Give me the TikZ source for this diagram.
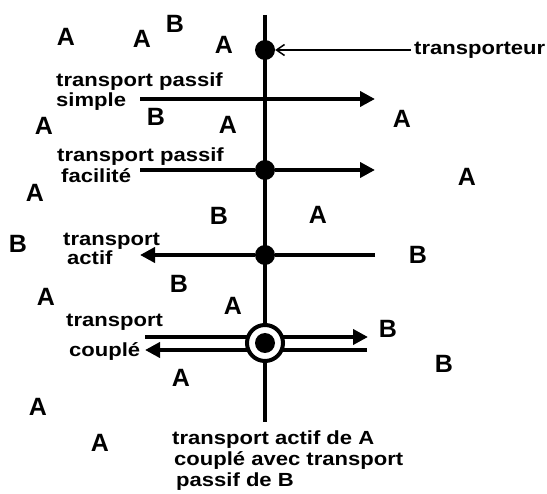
\documentclass[tikz,border=0pt]{standalone}
\usepackage{fontspec}
\setmainfont{Liberation Sans}
\usetikzlibrary{arrows.meta}
\newcommand\sx[1]{\scalebox{1.16}[1]{#1}}
\tikzset{
  lbl/.style={font=\fontsize{19}{22}\selectfont\bfseries, anchor=base west, inner sep=0pt},
  mol/.style={font=\fontsize{25}{28}\selectfont\bfseries, inner sep=0pt},
  flux/.style={line width=4pt, -{Triangle[length=15pt,width=15pt]}},
  fluxplain/.style={line width=4pt},
  dotnode/.style={circle, fill=black, minimum size=20pt, inner sep=0pt},
}
\begin{document}
\begin{tikzpicture}[x=1pt,y=-1pt]
\useasboundingbox[fill=white] (0,0) rectangle (547,494);
% membrane
\coordinate (mtop) at (265,15);
\coordinate (mbot) at (265,422);
\draw[line width=4pt] (mtop) -- (mbot);
% carriers
\node[dotnode] (c1) at (265,50) {};
\node[dotnode] (c2) at (265,170) {};
\node[dotnode] (c3) at (265,255) {};
% transporteur
\node[lbl] (tr) at (414,55) {\sx{transporteur}};
\draw[line width=1.5pt, -{Straight Barb[length=8pt,width=11pt]}] (tr.west |- c1) ++(-3,0) coordinate (trs) (trs) -- (c1.east);
% simple
\coordinate (s1) at (140,99);
\coordinate (s2) at (375,99);
\draw[flux] (s1) -- (s2);
\node[lbl] (ls1) at (56,87) {\sx{transport passif}};
\node[lbl] (ls2) at (56,107) {\sx{simple}};
% facilite
\coordinate (f2) at (375,170);
\coordinate (f1) at (140,170);
\draw[fluxplain] (f1) -- (c2);
\draw[flux] (c2) -- (f2);
\node[lbl] (lf1) at (57,162) {\sx{transport passif}};
\node[lbl] (lf2) at (61,183) {\sx{facilité}};
% actif
\coordinate (a1) at (375,255);
\coordinate (a2) at (140,255);
\draw[fluxplain] (a1) -- (c3);
\draw[flux] (c3) -- (a2);
\node[lbl] (la1) at (63,246) {\sx{transport}};
\node[lbl] (la2) at (67,265) {\sx{actif}};
% couple
\coordinate (k) at (265,343);
\coordinate (k1a) at (145,337);
\coordinate (k1b) at (368,337);
\coordinate (k2a) at (367,350);
\coordinate (k2b) at (145,350);
\draw[flux] (k1a) -- (k1b);
\draw[flux] (k2a) -- (k2b);
\node[circle, draw=black, line width=4pt, fill=white, minimum size=36pt, inner sep=0pt] (ring) at (k) {};
\node[dotnode] (c4) at (k) {};
\node[lbl] (lk1) at (66,327) {\sx{transport}};
\node[lbl] (lk2) at (69,357) {\sx{couplé}};
% bottom text
\node[lbl] (b1) at (172,445) {\sx{transport actif de A}};
\node[lbl] (b2) at (174,466) {\sx{couplé avec transport}};
\node[lbl] (b3) at (176,487) {\sx{passif de B}};
% molecules
\node[mol] (m1) at (66,37) {A};
\node[mol] (m2) at (142,39) {A};
\node[mol] (m3) at (175,24) {B};
\node[mol] (m4) at (224,45) {A};
\node[mol] (m5) at (44,126) {A};
\node[mol] (m6) at (156,117) {B};
\node[mol] (m7) at (228,125) {A};
\node[mol] (m8) at (402,119) {A};
\node[mol] (m9) at (467,177) {A};
\node[mol] (m10) at (35,193) {A};
\node[mol] (m11) at (219,216) {B};
\node[mol] (m12) at (318,215) {A};
\node[mol] (m13) at (18,244) {B};
\node[mol] (m14) at (418,255) {B};
\node[mol] (m15) at (46,297) {A};
\node[mol] (m16) at (179,284) {B};
\node[mol] (m17) at (233,306) {A};
\node[mol] (m18) at (388,329) {B};
\node[mol] (m19) at (444,364) {B};
\node[mol] (m20) at (181,378) {A};
\node[mol] (m21) at (38,407) {A};
\node[mol] (m22) at (100,443) {A};
\end{tikzpicture}
\end{document}
